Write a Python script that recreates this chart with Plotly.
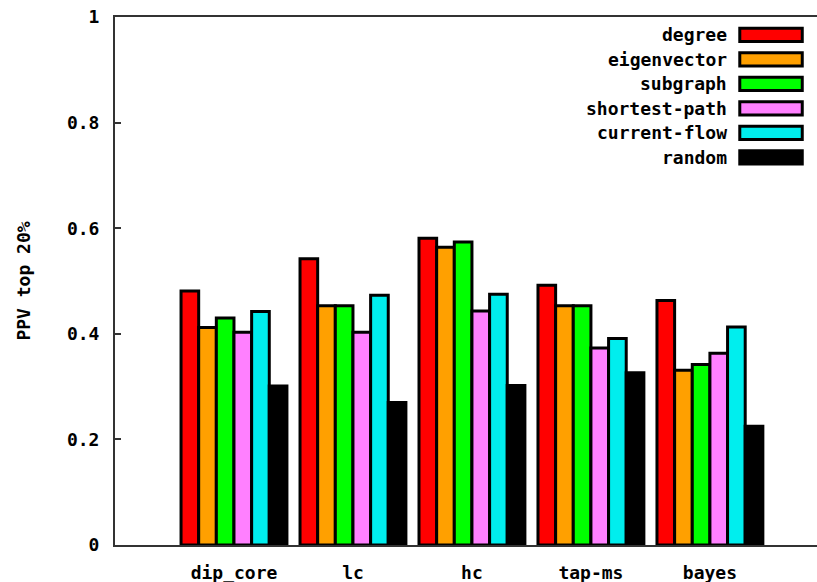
import plotly.graph_objects as go

# Categories (datasets) and per-method PPV scores
categories = ["dip_core", "lc", "hc", "tap-ms", "bayes"]
methods = ["degree", "eigenvector", "subgraph", "shortest-path", "current-flow", "random"]

degree = [0.481, 0.542, 0.581, 0.492, 0.463]
eigenvector = [0.412, 0.453, 0.564, 0.453, 0.331]
subgraph = [0.430, 0.453, 0.574, 0.453, 0.342]
shortest_path = [0.403, 0.403, 0.443, 0.373, 0.363]
current_flow = [0.442, 0.473, 0.475, 0.391, 0.413]
random_sel = [0.301, 0.270, 0.302, 0.326, 0.225]

y_tick_vals = [0, 0.2, 0.4, 0.6, 0.8, 1]
y_tick_text = ["0", "0.2", "0.4", "0.6", "0.8", "1"]

series = [degree, eigenvector, subgraph, shortest_path, current_flow, random_sel]
colors = ["#ff0000", "#ffa000", "#00ff00", "#ff80ff", "#00eeee", "#000000"]

FONT = dict(family="DejaVu Sans Mono", size=18, color="#000000", weight="bold")

fig = go.Figure()
for name, vals, col in zip(methods, series, colors):
    fig.add_trace(go.Bar(
        name=name,
        x=list(range(len(categories))),
        y=vals,
        marker=dict(color=col, line=dict(color="#000000", width=3)),
        showlegend=False,
    ))

# Legend drawn on the right: right-aligned label followed by a swatch
leg_text_x = 0.874
sw_x0, sw_x1 = 0.890, 0.979
row0, step, half_h = 0.966, 0.0464, 0.0125
for i, (name, col) in enumerate(zip(methods, colors)):
    yc = row0 - i * step
    fig.add_annotation(x=leg_text_x, y=yc, xref="paper", yref="paper",
                       text=name, showarrow=False, xanchor="right", yanchor="middle",
                       font=FONT)
    fig.add_shape(type="rect", xref="paper", yref="paper",
                  x0=sw_x0, x1=sw_x1, y0=yc - half_h, y1=yc + half_h,
                  fillcolor=col, line=dict(color="#000000", width=3))

fig.update_layout(
    width=817, height=582,
    margin=dict(l=115, r=0, t=17, b=37),
    paper_bgcolor="white", plot_bgcolor="white",
    barmode="group", bargap=0.11, bargroupgap=0,
    font=FONT,
    xaxis=dict(
        range=[-1, 4.9],
        tickvals=list(range(len(categories))),
        ticktext=categories,
        showline=True, linecolor="#333333", linewidth=2,
        mirror=True, ticks="", showgrid=False, zeroline=False,
        tickfont=FONT, ticklabelstandoff=10, automargin=False,
    ),
    yaxis=dict(
        range=[0, 1],
        tickvals=y_tick_vals, ticktext=y_tick_text,
        showline=True, linecolor="#333333", linewidth=2,
        ticks="inside", ticklen=6, tickwidth=1.5, tickcolor="#333333",
        showgrid=False, zeroline=False, automargin=False,
        tickfont=FONT, ticklabelstandoff=10,
        title=dict(text="PPV top 20%", font=FONT, standoff=32),
    ),
)

fig.write_html("out.html")
